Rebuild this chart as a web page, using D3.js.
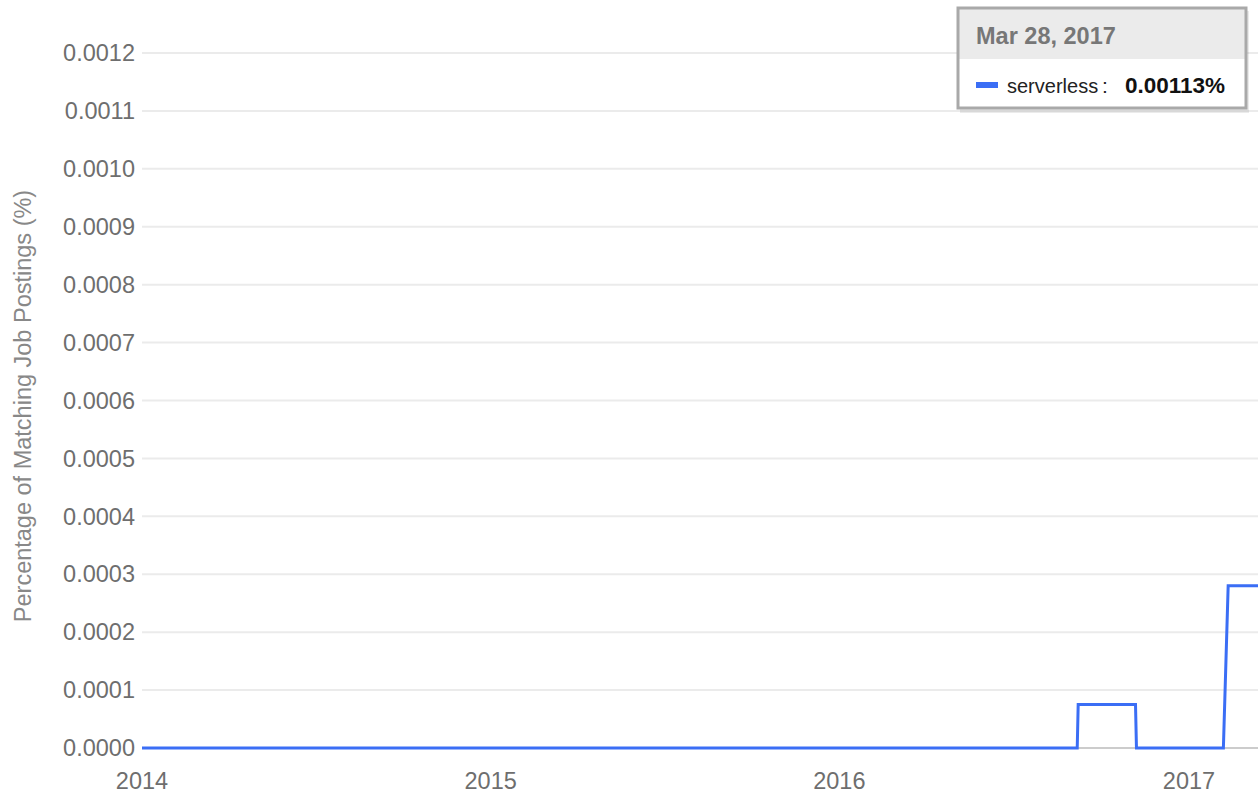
<!DOCTYPE html>
<html>
<head>
<meta charset="utf-8">
<script src="https://cdn.jsdelivr.net/npm/d3@7"></script>
<style>
  body { margin: 0; background: #fff; }
  svg { display: block; font-family: "Liberation Sans", Arial, sans-serif; }
</style>
</head>
<body>
<div id="chart"></div>
<script>
// step data
const dates = ["2014-01-01", "2016-09-06", "2016-09-07", "2016-11-06", "2016-11-07", "2017-02-06", "2017-02-11", "2017-05-01"];
const values = [0, 0, 0.000075, 0.000075, 0, 0, 0.00028, 0.00028];
const yTicks = [0, 0.0001, 0.0002, 0.0003, 0.0004, 0.0005, 0.0006, 0.0007, 0.0008, 0.0009, 0.0010, 0.0011, 0.0012];
const xTicks = ["2014-01-01", "2015-01-01", "2016-01-01", "2017-01-01"];
const tipDate = "Mar 28, 2017";
const tipSeries = "serverless";
const tipValue = "0.00113%";

const W = 1258, H = 795;
const parse = d3.timeParse("%Y-%m-%d");
const data = dates.map((d, i) => ({ date: parse(d), value: values[i] }));

const svg = d3.select("#chart").append("svg")
    .attr("width", W).attr("height", H);

const x = d3.scaleTime()
    .domain([parse("2014-01-01"), parse("2017-01-01")])
    .range([142, 1189]);

const y = d3.scaleLinear()
    .domain([0, 0.0012])
    .range([748, 53]);

// grid lines
svg.append("g")
    .selectAll("line")
    .data(yTicks)
    .enter().append("line")
    .attr("x1", 142).attr("x2", W)
    .attr("y1", d => y(d)).attr("y2", d => y(d))
    .attr("stroke", d => d === 0 ? "#cccccc" : "#ebebeb")
    .attr("stroke-width", 2);

// y axis labels
svg.append("g")
    .selectAll("text")
    .data(yTicks)
    .enter().append("text")
    .attr("x", 135)
    .attr("y", d => y(d))
    .attr("dy", "0.35em")
    .attr("text-anchor", "end")
    .attr("fill", "#6e6e6e")
    .style("font-size", "23.5px")
    .text(d => d3.format(".4f")(d));

// x axis labels
svg.append("g")
    .selectAll("text")
    .data(xTicks)
    .enter().append("text")
    .attr("x", d => x(parse(d)))
    .attr("y", 789)
    .attr("text-anchor", "middle")
    .attr("fill", "#6e6e6e")
    .style("font-size", "23.5px")
    .text(d => d.slice(0, 4));

// y axis title
svg.append("text")
    .attr("transform", "translate(31,406) rotate(-90)")
    .attr("text-anchor", "middle")
    .attr("fill", "#888888")
    .style("font-size", "23.5px")
    .text("Percentage of Matching Job Postings (%)");

// the line
const line = d3.line()
    .x(d => x(d.date))
    .y(d => y(d.value));

svg.append("path")
    .datum(data)
    .attr("fill", "none")
    .attr("stroke", "#3b6ef5")
    .attr("stroke-width", 3)
    .attr("stroke-linejoin", "miter")
    .attr("d", line);

// tooltip
const tip = svg.append("g").attr("transform", "translate(958,8)");
tip.append("rect")
    .attr("x", 2).attr("y", 3).attr("width", 289).attr("height", 102)
    .attr("fill", "rgba(0,0,0,0.08)");
tip.append("rect")
    .attr("x", 0).attr("y", 0).attr("width", 288).attr("height", 100)
    .attr("fill", "#fff");
tip.append("rect")
    .attr("x", 0).attr("y", 0).attr("width", 288).attr("height", 51)
    .attr("fill", "#ebebeb");
tip.append("rect")
    .attr("x", 0).attr("y", 0).attr("width", 288).attr("height", 100)
    .attr("fill", "none")
    .attr("stroke", "#a9a9a9")
    .attr("stroke-width", 3);
tip.append("text")
    .attr("x", 18).attr("y", 36)
    .attr("fill", "#777777")
    .style("font-size", "23.5px")
    .style("font-weight", "bold")
    .text(tipDate);
tip.append("rect")
    .attr("x", 18).attr("y", 74).attr("width", 22).attr("height", 6)
    .attr("fill", "#3b6ef5");
tip.append("text")
    .attr("x", 49).attr("y", 85)
    .attr("fill", "#222")
    .style("font-size", "20px")
    .text(tipSeries);
tip.append("text")
    .attr("x", 144).attr("y", 85)
    .attr("fill", "#222")
    .style("font-size", "21px")
    .text(":");
tip.append("text")
    .attr("x", 167).attr("y", 85)
    .attr("fill", "#111")
    .style("font-size", "22.5px")
    .style("font-weight", "bold")
    .text(tipValue);
</script>
</body>
</html>
